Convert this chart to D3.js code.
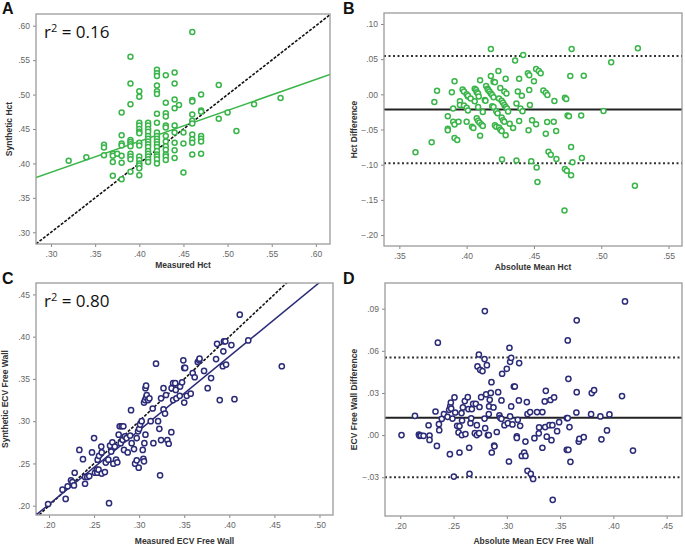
<!DOCTYPE html>
<html><head><meta charset="utf-8">
<script src="https://cdn.jsdelivr.net/npm/d3@7"></script>
<style>body{margin:0;background:#fff}svg{display:block}</style>
</head><body><svg id="c" width="685" height="546"></svg>
<script>
// ---------- DATA ----------
const hctMeasured = [
0.32,0.34,0.36,0.36,0.36,0.37,0.37,0.37,0.37,0.375,
0.38,0.38,0.38,0.38,0.38,0.38,0.38,
0.39,0.39,0.39,0.39,0.39,0.39,0.39,0.39,0.39,0.39,0.39,
0.40,0.40,0.40,0.40,0.40,0.40,0.40,0.40,0.40,0.40,0.40,0.40,0.40,0.40,0.40,
0.41,0.41,0.41,0.41,0.41,0.41,0.41,0.41,0.41,0.41,0.41,0.41,0.41,0.41,
0.42,0.42,0.42,0.42,0.42,0.42,0.42,0.42,0.42,0.42,0.42,0.42,0.42,0.42,0.42,0.42,0.42,0.42,0.42,
0.43,0.43,0.43,0.43,0.43,0.43,0.43,0.43,0.43,0.43,0.43,0.43,0.43,
0.44,0.44,0.44,0.44,0.44,0.44,0.44,0.44,0.44,
0.445,0.45,0.45,0.45,
0.46,0.46,0.46,0.46,0.46,0.46,0.46,0.46,0.46,0.46,
0.47,0.47,0.47,0.47,0.47,0.47,0.47,
0.49,0.49,0.50,0.51,0.53,0.56];
const hctSynthetic = [
0.404,0.409,0.427,0.423,0.412,0.414,0.411,0.402,0.382,0.414,
0.474,0.441,0.429,0.426,0.411,0.401,0.377,
0.555,0.516,0.486,0.434,0.431,0.428,0.425,0.414,0.410,0.406,0.388,
0.505,0.497,0.459,0.455,0.450,0.446,0.444,0.430,0.426,0.410,0.405,0.400,0.397,0.393,0.383,
0.459,0.455,0.450,0.446,0.440,0.436,0.432,0.428,0.424,0.418,0.414,0.410,0.406,0.402,
0.536,0.531,0.527,0.513,0.505,0.501,0.472,0.459,0.445,0.440,0.436,0.432,0.428,0.424,0.418,0.413,0.410,0.406,0.400,
0.528,0.488,0.473,0.468,0.455,0.452,0.440,0.432,0.425,0.420,0.413,0.410,0.405,
0.532,0.516,0.493,0.480,0.455,0.445,0.430,0.419,0.408,
0.485,0.445,0.429,0.387,
0.591,0.492,0.490,0.471,0.462,0.458,0.442,0.435,0.430,0.413,
0.500,0.477,0.475,0.440,0.436,0.432,0.414,
0.514,0.465,0.474,0.447,0.486,0.495];

const hctMean = [
0.362,0.374,0.376,0.378,0.389,0.391,0.390,0.390,0.391,0.386,0.386,0.386,0.391,0.393,0.394,0.395,0.395,
0.397,0.398,0.400,0.401,0.398,0.400,0.401,0.400,0.401,0.403,0.404,0.405,
0.406,0.407,0.4075,0.4085,0.409,0.406,0.4075,0.4085,0.4095,0.411,0.412,0.410,0.4085,0.410,0.412,0.4135,0.414,
0.4145,0.4155,0.416,0.417,0.418,0.419,0.420,0.418,0.418,0.419,0.420,0.420,0.421,
0.421,0.422,0.424,0.425,0.426,0.422,0.423,0.4236,0.425,
0.424,0.426,0.427,0.428,0.429,0.430,0.426,0.427,0.428,0.4263,0.428,0.4296,0.429,0.429,0.4308,0.432,0.4345,
0.436,0.437,0.437,0.438,0.439,0.439,0.440,0.4415,0.441,0.442,0.4455,0.4465,0.446,0.4465,0.447,0.448,0.4486,
0.450,0.4516,0.4536,0.455,0.4516,0.452,0.4526,0.457,0.4588,0.460,0.4588,0.4598,0.4608,0.4625,
0.4647,0.4652,0.4665,0.4667,0.4727,0.473,0.474,0.473,0.4744,0.475,0.476,0.477,0.4776,0.4776,0.478,0.4786,
0.4851,0.4856,0.487,0.5017,0.5074,0.525,0.5272];
const hctDiff = [
-0.0825,-0.068,-0.011,0.005,0.003,0.0185,-0.020,-0.039,-0.043,-0.031,-0.049,-0.051,-0.062,-0.065,-0.039,-0.010,-0.015,
0.007,0.004,0.000,-0.003,-0.016,-0.019,-0.023,-0.039,-0.002,-0.006,-0.046,-0.048,
0.008,0.006,0.003,0.001,-0.003,-0.010,-0.034,-0.0375,-0.040,-0.043,-0.045,0.020,-0.018,-0.059,-0.025,-0.008,-0.009,
0.012,0.008,0.006,0.004,0.001,-0.001,-0.004,0.026,0.0645,-0.017,-0.018,0.018,0.017,
-0.044,-0.046,-0.047,-0.050,-0.052,-0.024,-0.027,0.033,0.009,
-0.006,-0.009,-0.012,-0.015,-0.018,-0.020,-0.033,-0.037,-0.039,-0.0925,0.004,0.001,0.022,-0.058,-0.0245,-0.042,-0.048,
0.048,-0.013,-0.094,0.004,0.022,-0.038,-0.020,-0.024,-0.002,0.056,0.030,0.027,-0.051,0.006,-0.015,-0.095,-0.037,
0.0185,0.036,0.033,0.030,-0.0427,-0.104,-0.1247,0.0055,0.0024,-0.001,-0.056,-0.0394,-0.0815,-0.0858,
-0.039,-0.0095,-0.052,-0.092,-0.165,-0.0048,-0.0067,-0.106,-0.1085,-0.030,-0.031,0.026,-0.075,-0.115,0.0645,-0.0967,
-0.030,-0.0905,0.0265,-0.0237,0.0455,-0.130,0.0654];

const ecvMeasured = [
0.1845,0.199,0.215,0.2185,0.2207,0.2244,0.226,0.2277,0.2285,0.2337,0.2377,0.240,0.240,0.2425,0.2447,0.2477,0.250,
0.251,0.253,0.2536,0.255,0.254,0.2555,0.258,0.2585,0.2585,0.262,0.263,0.2658,0.2666,0.2677,0.269,0.2703,
0.2714,0.2744,0.2758,0.273,0.2773,0.2784,0.2806,0.2825,0.2795,0.2817,0.2843,0.2832,0.286,0.2873,0.290,0.291,
0.2917,0.2943,0.2955,0.2973,0.2973,0.2988,0.300,0.2995,0.301,0.3028,0.304,0.3047,0.3054,0.3054,0.3065,0.3077,
0.3084,0.3058,0.307,0.307,0.3077,0.310,0.3114,0.3128,0.315,0.3158,0.3187,0.321,0.3224,0.3232,0.3243,0.3243,
0.327,0.3287,0.327,0.3298,0.3313,0.3328,0.3357,0.336,0.3377,0.340,0.3377,0.3413,0.345,0.3406,0.3454,0.3476,
0.349,0.350,0.351,0.350,0.3528,0.3572,0.3594,0.3616,0.365,0.3665,0.367,0.372,0.376,0.3798,0.3853,0.3864,
0.3894,0.3934,0.394,0.3956,0.3928,0.3964,0.4023,0.4057,0.4116,0.421,0.4582];
const ecvSynthetic = [
0.188,0.202,0.219,0.208,0.223,0.230,0.228,0.224,0.239,0.266,0.255,0.226,0.234,0.234,0.235,0.263,0.280,
0.239,0.2426,0.239,0.2426,0.2545,0.259,0.270,0.238,0.263,0.2398,0.251,0.2545,0.203,0.271,0.264,0.275,
0.2497,0.2545,0.2513,0.270,0.284,0.294,0.294,0.294,0.274,0.278,0.282,0.266,0.280,0.263,0.283,0.313,
0.274,0.267,0.2497,0.2537,0.280,0.288,0.291,0.245,0.296,0.300,0.266,0.2553,0.2525,0.322,0.325,0.328,
0.331,0.274,0.284,0.339,0.342,0.325,0.327,0.300,0.315,0.274,0.368,0.300,0.291,0.236,0.2776,0.327,
0.314,0.309,0.339,0.331,0.2776,0.2733,0.287,0.339,0.345,0.345,0.325,0.327,0.330,0.337,0.341,0.346,
0.372,0.363,0.363,0.322,0.330,0.3325,0.357,0.352,0.370,0.372,0.374,0.3595,0.339,0.351,0.3735,0.3915,
0.325,0.3826,0.3945,0.3945,0.365,0.367,0.390,0.326,0.426,0.3955,0.365];

const ecvMean = [
0.2012,0.2138,0.2175,0.2181,0.2194,0.2219,0.2266,0.2275,0.2275,0.2331,0.2344,0.2353,0.2363,0.2366,0.239,0.241,0.2444,
0.2459,0.2469,0.2475,0.2478,0.2466,0.249,0.2503,0.2509,0.2516,0.2534,0.2547,0.2556,0.2556,0.2575,0.2588,0.258,0.2578,
0.2606,0.2612,0.2634,0.264,0.2647,0.265,0.2659,0.2666,0.2672,0.2684,0.2709,0.270,0.2719,0.274,0.2719,0.2725,0.275,
0.2738,0.2744,0.2759,0.2772,0.2794,0.2791,0.2791,0.2797,0.2806,0.2813,0.2822,0.2831,0.2834,0.284,0.2831,0.285,0.2856,
0.2859,0.2875,0.2881,0.2884,0.2906,0.2919,0.2931,0.2938,0.295,0.295,0.2956,0.2978,0.300,0.301,0.302,0.3025,0.3031,
0.3041,0.3031,0.3041,0.3053,0.3066,0.3075,0.3094,0.3094,0.3103,0.3113,0.3116,0.3125,0.3141,0.3163,0.3175,0.3175,
0.3188,0.3194,0.3194,0.3219,0.3225,0.3247,0.3259,0.3284,0.3303,0.330,0.3334,0.3356,0.3366,0.336,0.3334,0.3375,
0.340,0.3428,0.3409,0.3444,0.3419,0.3431,0.3472,0.3491,0.3563,0.3572,0.3563,0.3578,0.3572,0.3578,0.3588,0.3597,
0.3653,0.3656,0.3656,0.3675,0.3681,0.3722,0.3791,0.3797,0.3819,0.3878,0.3888,0.394,0.3963,0.4081,0.4109,0.4184];
const ecvDiff = [
0.000,0.0137,0.0004,-0.0005,-0.0003,-0.0005,0.007,-0.0003,-0.0034,0.0168,-0.0077,0.0658,0.0078,0.0035,0.0116,0.015,0.013,
0.018,0.0204,0.0232,0.0189,-0.0136,0.0118,-0.0295,0.0268,0.0161,0.0066,0.0019,0.0064,-0.0124,0.0157,0.0197,0.0104,0.000,
0.0242,0.0007,0.027,0.0185,-0.009,-0.0276,0.0085,0.012,0.0185,0.0223,0.0223,0.0014,0.000,0.0014,0.0071,0.0489,0.0465,
0.0574,0.020,0.027,0.0456,0.0883,0.0541,0.0118,0.0049,0.029,0.0498,0.000,0.000,0.0204,0.0251,0.015,0.030,0.0377,
-0.0124,0.0197,-0.0074,-0.008,0.0022,0.0306,0.014,0.0123,0.0247,0.0116,0.0437,0.0071,0.0472,0.0085,-0.0188,0.0622,0.0522,
0.055,0.0133,0.0204,0.0076,0.0346,0.0346,-0.0009,-0.002,0.0109,0.0247,0.0513,0.0066,-0.0148,-0.0124,-0.0148,-0.0046,
0.0235,0.015,-0.0254,0.0164,-0.0276,-0.0312,-0.0022,0.0164,0.0055,0.0013,0.0164,0.024,0.0315,0.0057,-0.009,-0.0011,
0.0071,0.0071,0.025,0.0268,-0.0036,-0.0461,0.0028,0.0092,0.0121,0.0121,-0.0105,-0.0105,0.0674,0.0401,0.0057,-0.019,
0.0161,0.0306,0.0817,-0.0046,-0.0027,-0.0015,0.0149,0.0299,0.032,0.0133,-0.003,0.0033,0.0147,0.0278,0.0952,-0.011];

// tick labels
const ticksA = [0.30,0.35,0.40,0.45,0.50,0.55,0.60];
const ticksBx = [0.35,0.40,0.45,0.50,0.55];
const ticksBy = [0.10,0.05,0.00,-0.05,-0.10,-0.15,-0.20];
const ticksCx = [0.20,0.25,0.30,0.35,0.40,0.45,0.50];
const ticksCy = [0.20,0.25,0.30,0.35,0.40,0.45];
const ticksDx = [0.20,0.25,0.30,0.35,0.40,0.45];
const ticksDy = [-0.03,0.00,0.03,0.06,0.09];
// reference lines
const fitA = {intercept:0.252, slope:0.45};
const fitC = {intercept:0.0266, slope:0.875};
const baB = {mean:-0.0215, upper:0.0545, lower:-0.098};
const baD = {mean:0.0123, upper:0.0553, lower:-0.030};

// ---------- DRAW ----------
const svg = d3.select("#c");
const GREEN = "#3ab54a", NAVY = "#2b2b78";
const fmt = v => { const s = d3.format(".2f")(v); return s.replace("0.", "."); };
let clipId = 0;

function panel(o){
  const x = d3.scaleLinear().domain(o.xd).range([o.x0,o.x1]);
  const y = d3.scaleLinear().domain(o.yd).range([o.y1,o.y0]);
  const g = svg.append("g");
  const id = "clip"+(clipId++);
  svg.append("clipPath").attr("id",id).append("rect")
    .attr("x",o.x0).attr("y",o.y0).attr("width",o.x1-o.x0).attr("height",o.y1-o.y0);
  const ax = g.append("g").attr("transform",`translate(0,${o.y1})`)
    .call(d3.axisBottom(x).tickValues(o.xt).tickFormat(fmt).tickSize(3).tickPadding(4));
  const ay = g.append("g").attr("transform",`translate(${o.x0},0)`)
    .call(d3.axisLeft(y).tickValues(o.yt).tickFormat(fmt).tickSize(3).tickPadding(3));
  [ax,ay].forEach(a=>{
    a.select(".domain").remove();
    a.selectAll("line").attr("stroke","#888");
    a.selectAll("text").attr("fill","#666").style("font-family","Liberation Sans, Arial, sans-serif").style("font-size","8.5px");
  });
  const inner = g.append("g").attr("clip-path",`url(#${id})`);
  o.draw(inner,x,y);
  inner.append("g").selectAll("circle").data(o.xs).join("circle")
    .attr("cx",(d,i)=>x(o.xs[i])).attr("cy",(d,i)=>y(o.ys[i]))
    .attr("r",o.r).attr("fill","white").attr("stroke",o.color).attr("stroke-width",1.5);
  g.append("rect").attr("x",o.x0).attr("y",o.y0).attr("width",o.x1-o.x0).attr("height",o.y1-o.y0)
    .attr("fill","none").attr("stroke","#9a9a9a").attr("stroke-width",1.3);
  g.append("text").attr("x",(o.x0+o.x1)/2).attr("y",o.xtY).attr("text-anchor","middle")
    .style("font-family","Liberation Sans, Arial, sans-serif").style("font-size","8.5px").style("font-weight","bold")
    .attr("fill","#333").text(o.xTitle);
  g.append("text").attr("transform",`translate(${o.ytX},${(o.y0+o.y1)/2}) rotate(-90)`).attr("text-anchor","middle")
    .style("font-family","Liberation Sans, Arial, sans-serif").style("font-size","8.5px").style("font-weight","bold")
    .attr("fill","#333").text(o.yTitle);
  g.append("text").attr("x",o.lx).attr("y",o.ly)
    .style("font-family","Liberation Sans, Arial, sans-serif").style("font-size","16px").style("font-weight","bold")
    .attr("fill","#111").text(o.letter);
  if(o.r2){
    const t = g.append("text").attr("x",o.x0+8).attr("y",o.y0+24)
      .style("font-family","Open Sans, Liberation Sans, sans-serif").style("font-size","17px").attr("fill","#111");
    t.append("tspan").text("r");
    t.append("tspan").attr("dy",-6).style("font-size","11px").text("2");
    t.append("tspan").attr("dy",6).text(" = "+o.r2);
  }
}

function identity(inner,x,y){
  const d = x.domain();
  inner.append("line").attr("x1",x(d[0])).attr("y1",y(d[0])).attr("x2",x(d[1])).attr("y2",y(d[1]))
    .attr("stroke","#111").attr("stroke-width",1.6).attr("stroke-dasharray","3,1.5");
}
function fitLine(inner,x,y,f,color){
  const d = x.domain();
  inner.append("line").attr("x1",x(d[0])).attr("y1",y(f.intercept+f.slope*d[0]))
    .attr("x2",x(d[1])).attr("y2",y(f.intercept+f.slope*d[1]))
    .attr("stroke",color).attr("stroke-width",1.5);
}
function baLines(inner,x,y,b){
  const d = x.domain();
  inner.append("line").attr("x1",x(d[0])).attr("x2",x(d[1])).attr("y1",y(b.mean)).attr("y2",y(b.mean))
    .attr("stroke","#222").attr("stroke-width",2);
  [b.upper,b.lower].forEach(v=>inner.append("line").attr("x1",x(d[0])).attr("x2",x(d[1]))
    .attr("y1",y(v)).attr("y2",y(v)).attr("stroke","#333").attr("stroke-width",2).attr("stroke-dasharray","2,2.5"));
}

panel({x0:36,x1:330,y0:14,y1:244,xd:[0.283,0.616],yd:[0.283,0.617],xt:ticksA,yt:ticksA,
  xs:hctMeasured,ys:hctSynthetic,color:GREEN,r:2.5,xTitle:"Measured Hct",yTitle:"Synthetic Hct",
  xtY:268,ytX:12,letter:"A",lx:2,ly:14,r2:"0.16",
  draw:(g,x,y)=>{fitLine(g,x,y,fitA,GREEN);identity(g,x,y);}});
panel({x0:384,x1:682,y0:13,y1:246,xd:[0.3386,0.560],yd:[-0.2156,0.1156],xt:ticksBx,yt:ticksBy,
  xs:hctMean,ys:hctDiff,color:GREEN,r:2.5,xTitle:"Absolute Mean Hct",yTitle:"Hct Difference",
  xtY:270,ytX:357,letter:"B",lx:343,ly:14,
  draw:(g,x,y)=>baLines(g,x,y,baB)});
panel({x0:36,x1:333,y0:283,y1:515,xd:[0.1856,0.515],yd:[0.189,0.4635],xt:ticksCx,yt:ticksCy,
  xs:ecvMeasured,ys:ecvSynthetic,color:NAVY,r:2.6,xTitle:"Measured ECV Free Wall",yTitle:"Synthetic ECV Free Wall",
  xtY:544,ytX:8,letter:"C",lx:2,ly:284,r2:"0.80",
  draw:(g,x,y)=>{identity(g,x,y);fitLine(g,x,y,fitC,NAVY);}});
panel({x0:385,x1:682,y0:283,y1:516,xd:[0.1857,0.4644],yd:[-0.0576,0.1083],xt:ticksDx,yt:ticksDy,
  xs:ecvMean,ys:ecvDiff,color:NAVY,r:2.6,xTitle:"Absolute Mean ECV Free Wall",yTitle:"ECV Free Wall Difference",
  xtY:544,ytX:357,letter:"D",lx:343,ly:284,
  draw:(g,x,y)=>baLines(g,x,y,baD)});
</script></body></html>
